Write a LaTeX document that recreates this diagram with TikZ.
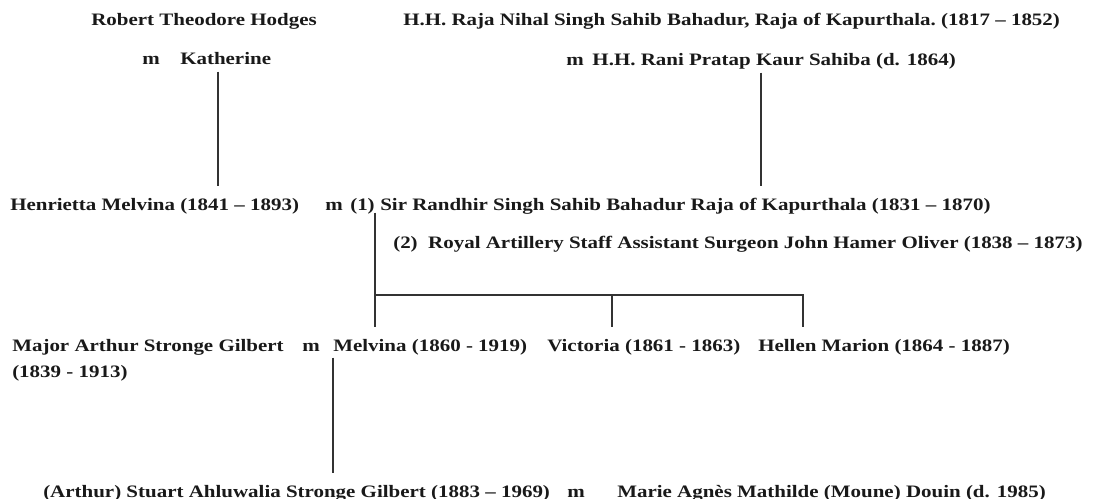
\documentclass[tikz,border=0pt]{standalone}
\usepackage{fontspec}
\setmainfont{Liberation Serif}[FakeStretch=1.2]
\usetikzlibrary{positioning}
\definecolor{linegray}{rgb}{0.2,0.2,0.2}
\definecolor{inkblack}{rgb}{0.1,0.1,0.1}
\tikzset{
  person/.style={anchor=base west, inner sep=0pt, outer ysep=2pt, text height=9pt, text depth=3pt, font=\fontsize{13.1}{15}\selectfont\bfseries, text=inkblack},
  child/.style={person, text height=16pt},
  tie/.style={line width=1.6pt, draw=linegray}
}
\begin{document}
\begin{tikzpicture}[x=0.75pt,y=-0.75pt]
    \useasboundingbox (0,0) rectangle (1095,499);
    \node[person] (rth) at (91,26) {Robert Theodore Hodges};
    \node[person] (nihal) at (403,26) {H.H. Raja Nihal Singh Sahib Bahadur, Raja of Kapurthala.\hspace{0.3em}(1817 – 1852)};
    \node[person] (m1) at (142,65) {m};
    \node[person] (kath) at (180,65) {Katherine};
    \node[person] (rani) at (566,66) {m\hspace{0.5em}H.H. Rani Pratap Kaur Sahiba (d. 1864)};

    \node[child] (henr) at (10,210) {Henrietta Melvina (1841 – 1893)};
    \node[person] (m2) at (325,210) {m};
    \node[person] (one) at (350,210) {(1)};
    \node[child] (randhir) at (380,210) {Sir Randhir Singh Sahib Bahadur Raja of Kapurthala (1831 – 1870)};
    \node[person] (oliver) at (393,248) {(2)\hspace{0.6em}Royal Artillery Staff Assistant Surgeon John Hamer Oliver (1838 – 1873)};

    \node[person] (gilb) at (12,351) {Major Arthur Stronge Gilbert};
    \node[person] (gilbyrs) at (12,377) {(1839 - 1913)};
    \node[person] (m3) at (302,351) {m};
    \node[child] (melv) at (333,351) {Melvina (1860 - 1919)};
    \node[child] (vict) at (547,351) {Victoria (1861 - 1863)};
    \node[child] (hell) at (758,351) {Hellen Marion (1864 - 1887)};

    \node[child] (stuart) at (43,497) {(Arthur) Stuart Ahluwalia Stronge Gilbert (1883 – 1969)};
    \node[person] (m4) at (567,497) {m};
    \node[person] (douin) at (617,497) {Marie Agnès Mathilde (Moune) Douin (d. 1985)};

    % Parents
    \coordinate (kdrop) at ([xshift=-6pt]kath.south);
    \draw[tie] (kdrop) -- (kdrop |- henr.north);
    \draw[tie] (rani.south) -- (rani.south |- randhir.north);

    % Children of (1)
    \coordinate (fork) at (one.south east |- 0,295);
    \coordinate (vdrop) at (612,295);
    \coordinate (hdrop) at (803,295);
    \draw[tie] ([yshift=3pt]one.south east) -- (one.south east |- melv.north);
    \draw[tie] (fork) -- (hdrop) -- (hdrop |- hell.north);
    \draw[tie] (vdrop) -- (vdrop |- vict.north);

    \draw[tie] (melv.south west) -- (melv.south west |- stuart.north);
\end{tikzpicture}
\end{document}
